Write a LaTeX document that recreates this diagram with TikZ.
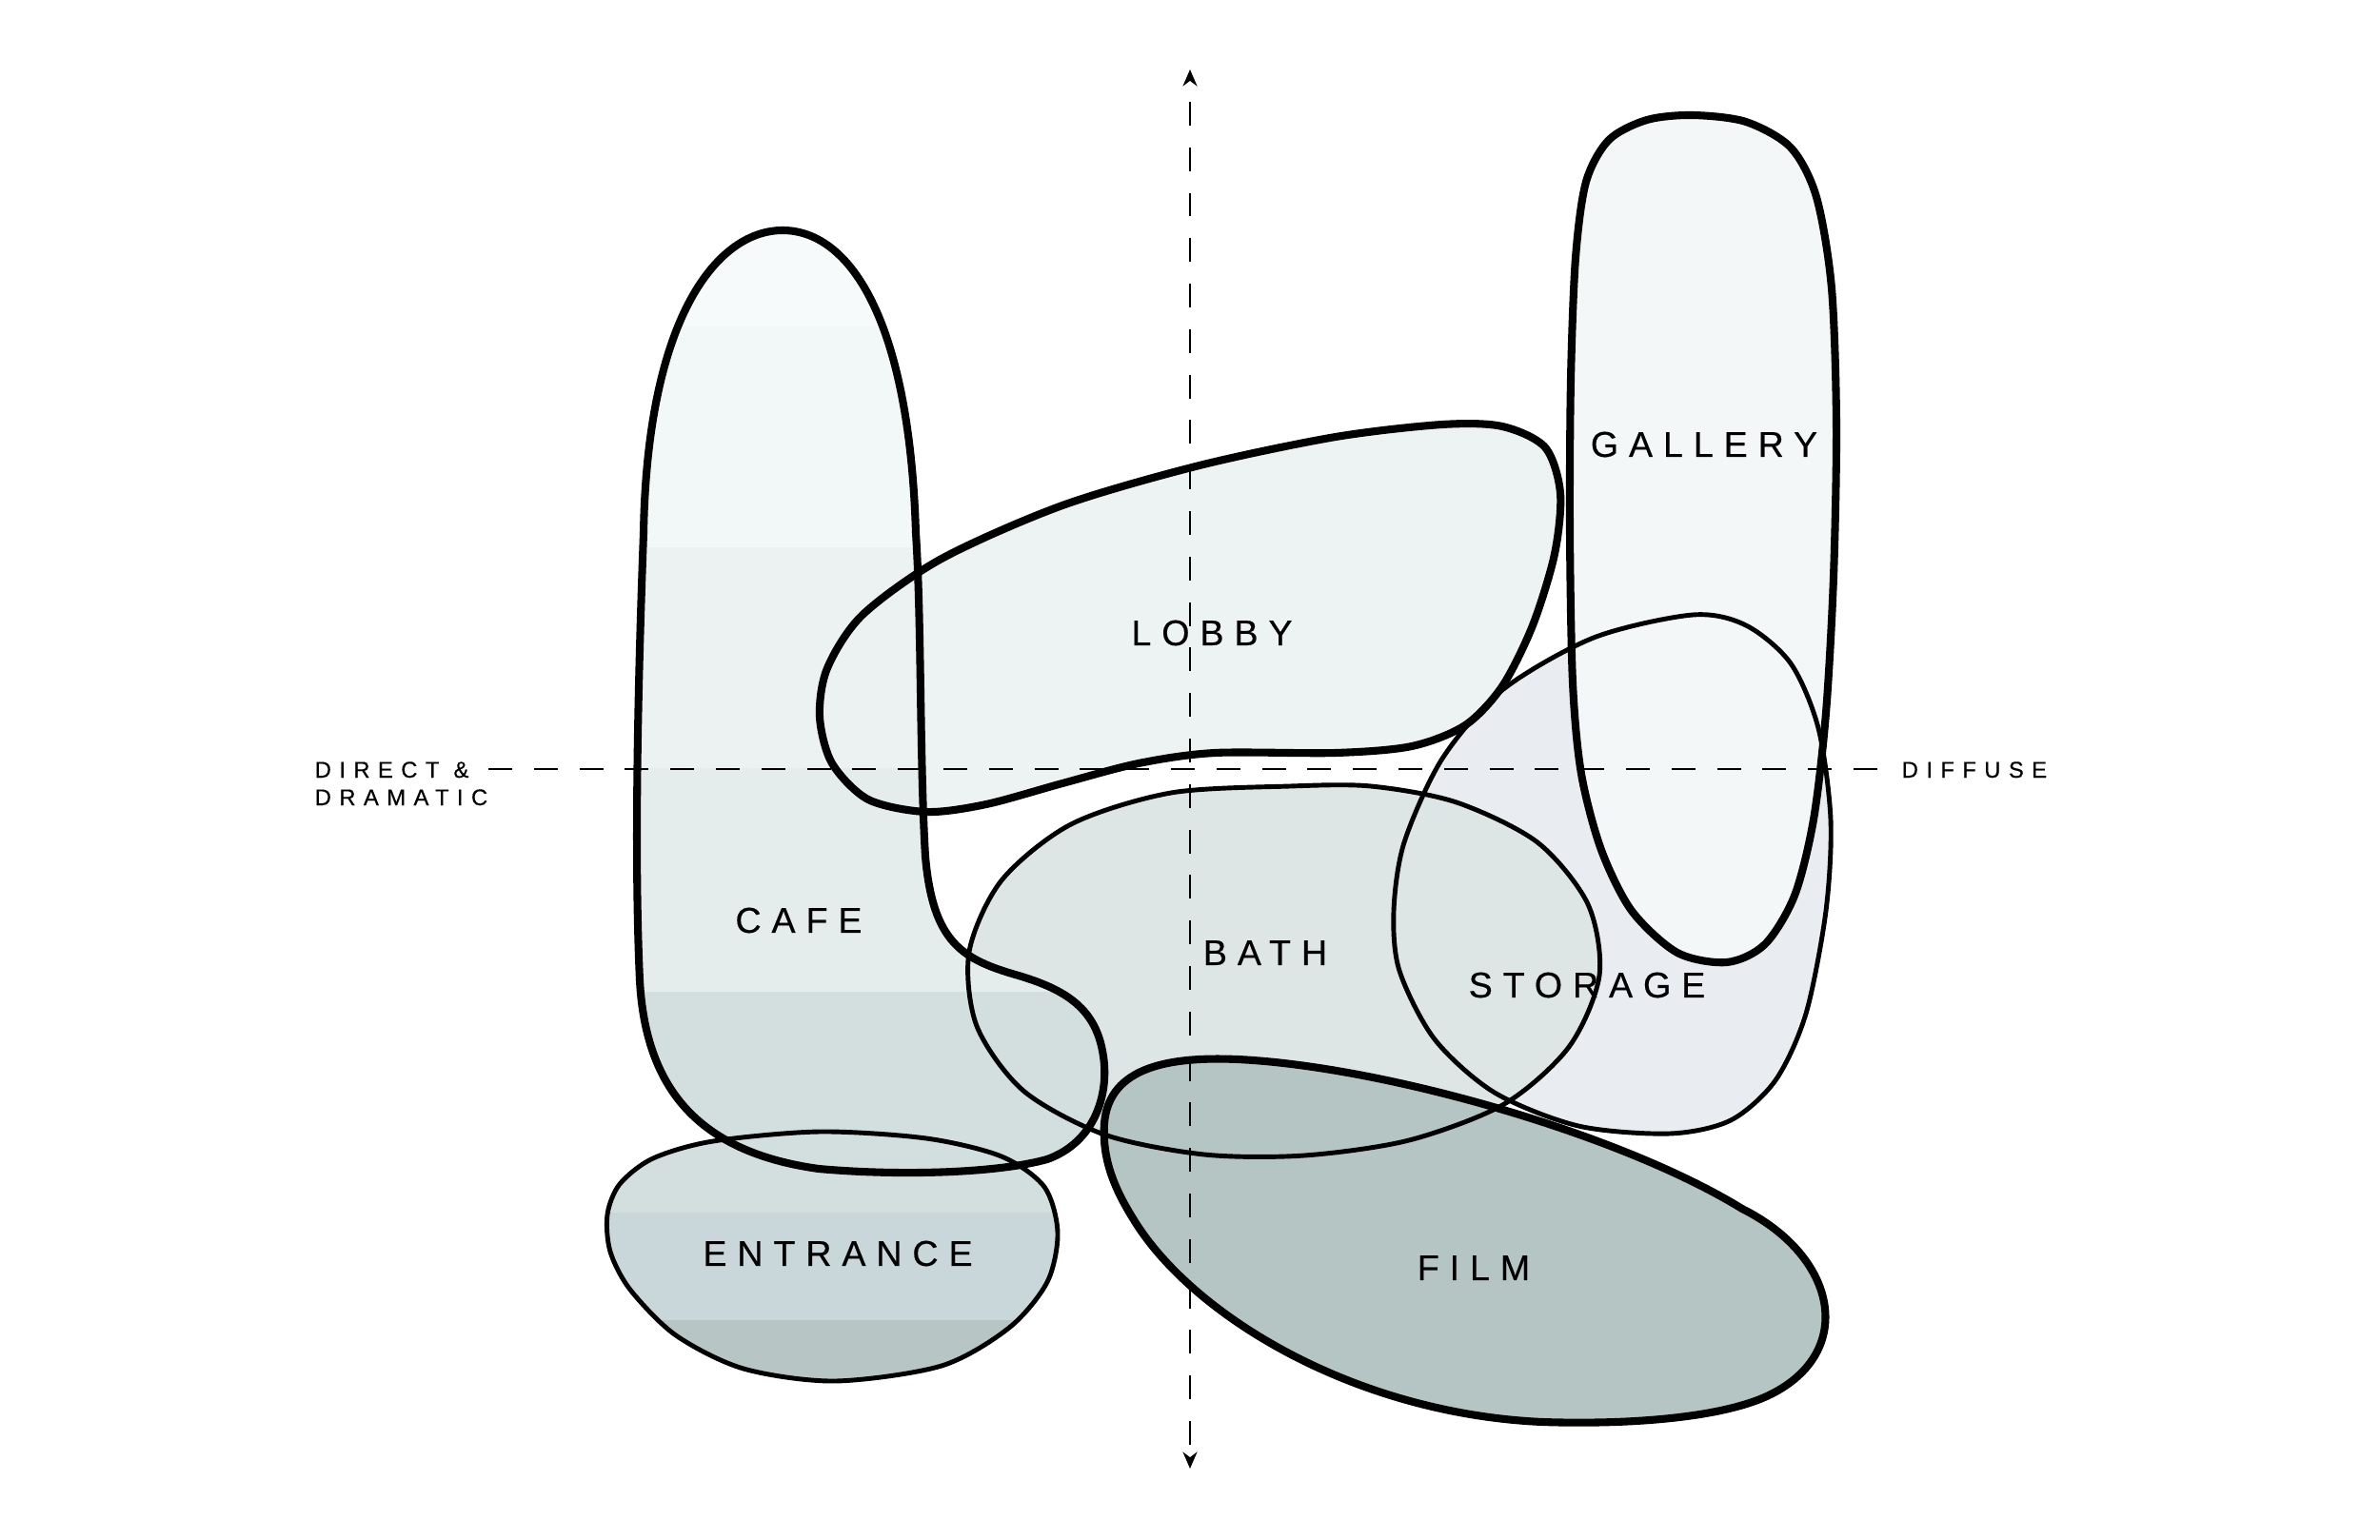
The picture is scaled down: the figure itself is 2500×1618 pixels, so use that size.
\documentclass[tikz,border=0pt]{standalone}
\usepackage{fontspec}
\setmainfont{Liberation Sans}
\newfontfamily\roomfont[LetterSpace=29,FakeBold=0.4]{Liberation Sans}
\newfontfamily\axisfont[LetterSpace=35,FakeBold=0.4]{Liberation Sans}
\usetikzlibrary{arrows.meta}
\definecolor{storagefill}{HTML}{E9EDF1}
\definecolor{lobbyfill}{HTML}{EDF3F2}
\definecolor{bathfill}{HTML}{DDE5E5}
\definecolor{galleryfill}{HTML}{F3F7F8}
\definecolor{filmfill}{HTML}{B5C5C4}
\definecolor{band1}{HTML}{F6FAFA}
\definecolor{band2}{HTML}{F2F7F7}
\definecolor{band3}{HTML}{ECF2F2}
\definecolor{band4}{HTML}{E4ECEC}
\definecolor{band5}{HTML}{D3DFDF}
\definecolor{band6}{HTML}{C9D7DA}
\definecolor{band7}{HTML}{B7C5C4}

% room outlines (pixel units)
\newcommand\cafepath{(822,242) .. controls (755,242) and (680,330) .. (676,560)
  .. controls (670,720) and (666,900) .. (672,1030)
  .. controls (678,1140) and (730,1210) .. (860,1228)
  .. controls (950,1236) and (1050,1232) .. (1100,1218)
  .. controls (1150,1200) and (1165,1150) .. (1159,1110)
  .. controls (1152,1060) and (1120,1040) .. (1070,1025)
  .. controls (1010,1008) and (980,990) .. (972,900)
  .. controls (966,800) and (968,650) .. (962,560)
  .. controls (955,330) and (890,242) .. (822,242) -- cycle}
\newcommand\filmpath{(1160,1180) .. controls (1165,1120) and (1230,1110) .. (1300,1113)
  .. controls (1450,1120) and (1700,1190) .. (1830,1270)
  .. controls (1930,1320) and (1950,1420) .. (1860,1465)
  .. controls (1810,1490) and (1710,1497) .. (1620,1494)
  .. controls (1420,1485) and (1250,1380) .. (1190,1280)
  .. controls (1165,1240) and (1158,1210) .. (1160,1180) -- cycle}
\newcommand\lobbypath{plot[smooth cycle] coordinates {(973,853) (1036,845) (1116,823) (1196,802) (1276,791) (1403,791) (1483,784) (1539,762) (1578,721) (1610,657) (1633,582) (1639,518) (1623,470) (1578,448) (1515,446) (1403,459) (1260,489) (1116,531) (989,587) (906,646) (869,702) (861,753) (874,802) (912,840)}}
\newcommand\gallerypath{plot[smooth cycle] coordinates {(1778,121) (1730,126) (1690,147) (1666,191) (1655,271) (1650,399) (1649,558) (1652,717) (1661,813) (1682,893) (1714,957) (1762,1001) (1814,1011) (1854,992) (1885,941) (1905,861) (1918,749) (1926,606) (1929,446) (1924,303) (1908,207) (1881,155) (1834,128)}}
\newcommand\storagepath{plot[smooth cycle] coordinates {(1778,646) (1834,657) (1881,697) (1910,765) (1923,861) (1918,957) (1897,1065) (1865,1135) (1818,1177) (1754,1191) (1658,1183) (1570,1148) (1507,1092) (1470,1020) (1464,957) (1475,885) (1515,797) (1578,725) (1674,670)}}
\newcommand\bathpath{plot[smooth cycle] coordinates {(1355,826) (1230,833) (1125,866) (1052,925) (1018,1000) (1026,1078) (1075,1146) (1160,1192) (1265,1213) (1370,1214) (1480,1198) (1580,1160) (1648,1100) (1680,1025) (1668,950) (1615,885) (1530,843) (1440,826)}}
\newcommand\entrancepath{plot[smooth cycle] coordinates {(638,1276) (651,1244) (686,1217) (749,1199) (861,1189) (973,1196) (1052,1215) (1097,1247) (1111,1295) (1100,1347) (1060,1395) (989,1435) (877,1451) (781,1438) (710,1403) (662,1355) (641,1315)}}

\tikzset{
  room/.style={font=\roomfont\fontsize{10.7}{12}\selectfont, inner sep=0pt},
  axislabel/.style={font=\axisfont\fontsize{6.8}{8}\selectfont, inner sep=0pt},
  heavy/.style={line width=2.3pt, line join=round},
  light/.style={line width=1.4pt, line join=round},
  axisline/.style={line width=0.6pt, dash pattern=on 7.1pt off 6.5pt}
}

\begin{document}
\begin{tikzpicture}[x=0.1mm, y=-0.1mm]
\useasboundingbox (0,0) rectangle (2500,1618);
% fills, back to front
\fill[storagefill] \storagepath;
\fill[lobbyfill] \lobbypath;
\fill[bathfill] \bathpath;
\fill[galleryfill] \gallerypath;
\fill[filmfill] \filmpath;
\begin{scope}
\clip \cafepath;
\foreach \ya/\yb/\c in {0/343/band1,343/575/band2,575/807/band3,807/1042/band4,1042/1274/band5,1274/1387/band6,1387/1618/band7}
  \fill[\c] (600,\ya) rectangle (1200,\yb);
\end{scope}
\begin{scope}
\clip \entrancepath;
\foreach \ya/\yb/\c in {1042/1274/band5,1274/1387/band6,1387/1618/band7}
  \fill[\c] (600,\ya) rectangle (1200,\yb);
\end{scope}
% outlines
\draw[light] \storagepath;
\draw[light] \bathpath;
\draw[light] \entrancepath;
\draw[heavy] \filmpath;
\draw[heavy] \gallerypath;
\draw[heavy] \lobbypath;
\draw[heavy] \cafepath;
% axes
\coordinate (ytop) at (1250,73);
\coordinate (ybot) at (1250,1543);
\coordinate (xleft) at (513,808);
\coordinate (xright) at (1985,808);
\draw[axisline, dash phase=7.1pt, {Stealth[length=5pt,width=4.3pt]}-{Stealth[length=5pt,width=4.3pt]}] (ytop) -- (ybot);
\draw[axisline] (xleft) -- (xright);
\node[axislabel, anchor=base west] (direct) at (330,817) {DIRECT \&};
\node[axislabel, anchor=base west] (dramatic) at (330,846) {DRAMATIC};
\node[axislabel, anchor=base west] (diffuse) at (1997,817) {DIFFUSE};
% room labels
\node[room] (cafe) at (839,967) {CAFE};
\node[room] (lobby) at (1273,665) {LOBBY};
\node[room] (gallery) at (1790,467) {GALLERY};
\node[room] (bath) at (1329,1001) {BATH};
\node[room] (storage) at (1667,1035) {STORAGE};
\node[room] (entrance) at (880,1317) {ENTRANCE};
\node[room] (film) at (1548,1332) {FILM};
\end{tikzpicture}
\end{document}
